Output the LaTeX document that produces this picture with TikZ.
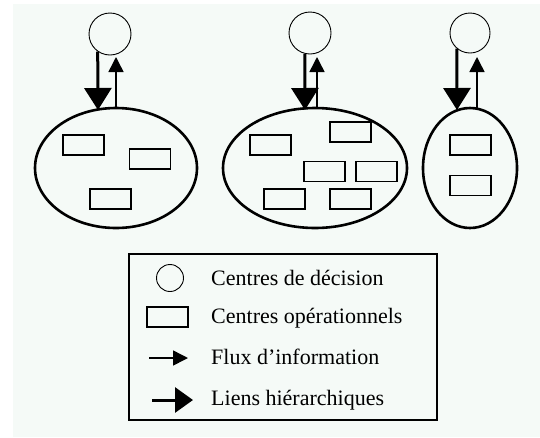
\documentclass[tikz,border=0pt]{standalone}
\usepackage{fontspec}
\setmainfont{Liberation Serif}
\usetikzlibrary{arrows.meta,shapes.geometric,calc}
\definecolor{bgpale}{HTML}{F5FAF7}
\tikzset{
  decision/.style={circle,draw,line width=0.9pt,minimum size=42pt,inner sep=0pt},
  unitbox/.style={ellipse,draw,line width=2.6pt,inner sep=0pt},
  opbox/.style={rectangle,draw,line width=1.4pt,minimum width=41pt,minimum height=20pt,inner sep=0pt},
  hier/.style={line width=3pt,-{Triangle[length=22pt,width=27pt]}},
  info/.style={line width=1.5pt,-{Triangle[length=15pt,width=15pt]}},
  legtext/.style={anchor=base west,inner sep=0pt,font=\fontsize{22}{24}\selectfont},
}
\begin{document}
\begin{tikzpicture}[x=1pt,y=-1pt]
\useasboundingbox (0,0) rectangle (540,437);
\fill[white] (0,0) rectangle (540,437);
\fill[bgpale] (13,4) rectangle (540,437);
% group 1
\node[decision] (c1) at (110,34) {};
\node[unitbox,minimum width=162pt,minimum height=120pt] (e1) at (116,168) {};
\node[opbox] (r11) at (83.5,145) {};
\node[opbox] (r12) at (150,159) {};
\node[opbox] (r13) at (110.5,199) {};
\coordinate (h1) at (98,110);
\coordinate (i1s) at (116,108);
\coordinate (i1e) at (116,57);
\draw[hier] (c1.235) -- (h1);
\draw[info] (i1s) -- (i1e);
% group 2
\node[decision] (c2) at (310,33) {};
\node[unitbox,minimum width=184pt,minimum height=120pt] (e2) at (315,168) {};
\node[opbox] (r21) at (270.5,145) {};
\node[opbox] (r22) at (350.5,132) {};
\node[opbox] (r23) at (324.5,171.5) {};
\node[opbox] (r24) at (376.5,171.5) {};
\node[opbox] (r25) at (284.5,199) {};
\node[opbox] (r26) at (350.5,199) {};
\coordinate (h2) at (305,110);
\coordinate (i2s) at (317,108);
\coordinate (i2e) at (317,57);
\draw[hier] (c2.256) -- (h2);
\draw[info] (i2s) -- (i2e);
% group 3
\node[decision,minimum size=40pt] (c3) at (470,33) {};
\node[unitbox,minimum width=94pt,minimum height=120pt] (e3) at (470,168) {};
\node[opbox] (r31) at (470.5,145) {};
\node[opbox] (r32) at (470.5,185.5) {};
\coordinate (h3) at (457,110);
\coordinate (i3s) at (477,108);
\coordinate (i3e) at (477,57);
\draw[hier] (c3.230) -- (h3);
\draw[info] (i3s) -- (i3e);
% legend
\node[rectangle,draw,line width=1.8pt,minimum width=308pt,minimum height=166pt,inner sep=0pt] (leg) at (283,337) {};
\node[circle,draw,line width=0.9pt,minimum size=27pt,inner sep=0pt] (lc) at (170,278) {};
\node[opbox] (lr) at (167.5,317) {};
\coordinate (la1) at (149,358);
\coordinate (la2) at (188,358);
\coordinate (lb1) at (152,400);
\coordinate (lb2) at (193,400);
\draw[info] (la1) -- (la2);
\draw[line width=3pt,-{Triangle[length=18pt,width=25pt]}] (lb1) -- (lb2);
\node[legtext] (t1) at (211,285) {Centres de décision};
\node[legtext] (t2) at (211,323) {Centres opérationnels};
\node[legtext] (t3) at (211,364) {Flux d’information};
\node[legtext] (t4) at (211,405) {Liens hiérarchiques};
\end{tikzpicture}
\end{document}
